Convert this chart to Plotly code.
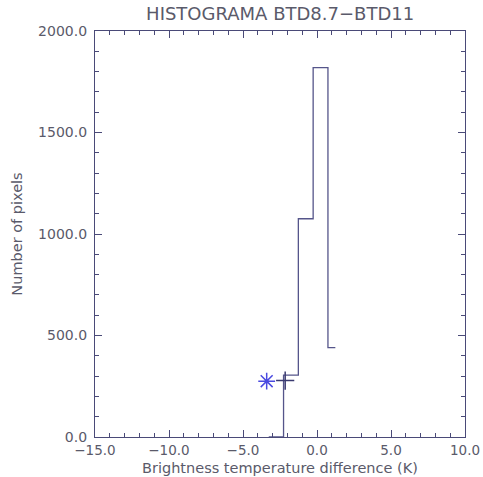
import plotly.graph_objects as go

# Histogram (bin centres, counts) drawn IDL psym=10 style
bin_centers = [-3.26, -2.76, -1.76, -0.76, 0.24, 1.24]
counts = [0, 0, 305, 1075, 1820, 440]

# Markers
star_x = [-3.4]
star_y = [275]
plus_x = [-2.15]
plus_y = [278]

x_ticks = [-15, -10, -5, 0, 5, 10]
x_labels = ["\u221215.0", "\u221210.0", "\u22125.0", "0.0", "5.0", "10.0"]
y_ticks = [0, 500, 1000, 1500, 2000]
y_labels = ["0.0", "500.0", "1000.0", "1500.0", "2000.0"]

axis_col = "#4a4a78"
text_col = "#5a5a6a"
font_fam = "DejaVu Sans, Liberation Sans, sans-serif"

fig = go.Figure()
fig.add_trace(go.Scatter(x=bin_centers, y=counts, mode="lines",
                         line=dict(shape="hvh", color="#55558a", width=1.3),
                         showlegend=False, cliponaxis=False))
fig.add_trace(go.Scatter(x=star_x, y=star_y, mode="markers",
                         marker=dict(symbol="asterisk-open", size=14, color="#4a4ae0",
                                     line=dict(color="#4a4ae0", width=1.5)),
                         showlegend=False))
fig.add_trace(go.Scatter(x=plus_x, y=plus_y, mode="markers",
                         marker=dict(symbol="cross-thin-open", size=13, color="#3a3a70",
                                     line=dict(color="#3a3a70", width=1.5)),
                         showlegend=False))

common = dict(showgrid=False, zeroline=False, showline=True, linecolor=axis_col,
              linewidth=1.2, mirror="allticks", ticks="inside", tickcolor=axis_col,
              tickwidth=1, ticklen=7, automargin=False)

fig.update_xaxes(range=[-15, 10], tickvals=x_ticks, ticktext=x_labels,
                 ticklabelstandoff=1,
                 tickfont=dict(family=font_fam, size=13.5, color=text_col),
                 minor=dict(dtick=1, ticks="inside", ticklen=4, tickcolor=axis_col,
                            tick0=-15),
                 **common)
fig.update_yaxes(range=[0, 2000], tickvals=y_ticks, ticktext=y_labels,
                 ticklabelstandoff=4,
                 tickfont=dict(family=font_fam, size=14, color=text_col),
                 minor=dict(dtick=100, ticks="inside", ticklen=4, tickcolor=axis_col,
                            tick0=0),
                 title=dict(text="Number of pixels",
                            font=dict(family=font_fam, size=14.5, color=text_col),
                            standoff=12),
                 **common)

fig.add_annotation(text="Brightness temperature difference (K)", xref="paper", yref="paper",
                   x=0.5, y=-0.0764, xanchor="center", yanchor="middle", showarrow=False,
                   borderpad=0,
                   font=dict(family=font_fam, size=14.5, color=text_col))

fig.update_layout(
    width=483, height=477,
    margin=dict(l=95, r=18, t=31, b=40),
    paper_bgcolor="white", plot_bgcolor="white",
    title=dict(text="HISTOGRAMA BTD8.7\u2212BTD11", x=0.58, xanchor="center",
               y=0.985, yanchor="top",
               font=dict(family=font_fam, size=18, color=text_col)),
)

fig.write_html("out.html")
